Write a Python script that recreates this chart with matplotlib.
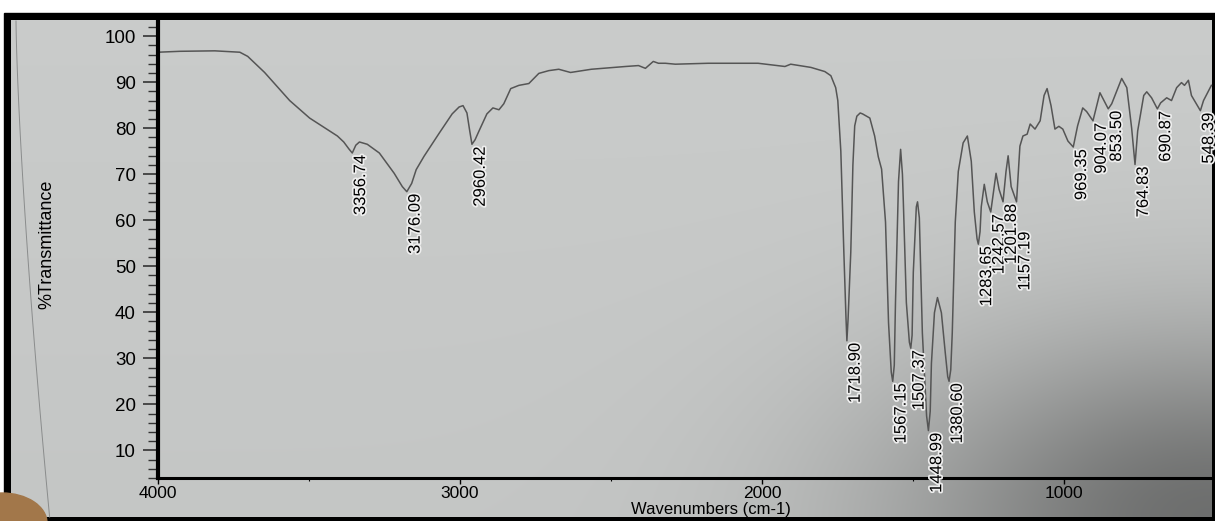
import numpy as np
import matplotlib.pyplot as plt
import matplotlib.patheffects as pe
from matplotlib.patches import Rectangle, Ellipse

plt.rcParams['font.family'] = ['Liberation Sans', 'DejaVu Sans']

# FT-IR spectrum, wavenumber (cm-1) vs %T
wavenumber = [4000, 3927, 3812, 3729, 3703, 3647, 3564, 3498, 3432, 3406, 3385, 3368,
              3356.74, 3345, 3333, 3307, 3267, 3218, 3191, 3176.09, 3160, 3145, 3119,
              3069, 3026, 3003, 2990, 2977, 2968, 2960.42, 2950, 2937, 2911, 2891, 2871,
              2855, 2832, 2805, 2772, 2739, 2706, 2673, 2634, 2565, 2452, 2409, 2386,
              2360, 2343, 2320, 2287, 2178, 2070, 2013, 1924, 1905, 1838, 1792, 1772,
              1756, 1749, 1739, 1729, 1722, 1718.90, 1715, 1706, 1699, 1693, 1686, 1675,
              1667, 1643, 1627, 1615, 1604, 1591, 1581, 1572, 1567.15, 1562, 1558, 1548,
              1541, 1535, 1532, 1522, 1512, 1507.37, 1503, 1499, 1489, 1485, 1479, 1469,
              1455, 1448.99, 1443, 1439, 1429, 1419, 1406, 1393, 1385, 1380.60, 1375,
              1370, 1360, 1350, 1334, 1320, 1307, 1297, 1288, 1283.65, 1278, 1274, 1264,
              1254, 1242.57, 1231, 1225, 1215, 1201.88, 1192, 1185, 1175, 1157.19, 1146,
              1136, 1122, 1112, 1096, 1079, 1066, 1056, 1043, 1030, 1017, 1004, 987,
              969.35, 955, 938, 925, 904.07, 881, 853.50, 842, 809, 792, 776, 764.83,
              756, 736, 726, 710, 690.87, 680, 660, 644, 627, 611, 601, 588, 578,
              548.39, 538, 512]
transmittance = [96.5, 96.7, 96.8, 96.5, 95.6, 92.1, 86.0, 82.2, 79.4, 78.3, 77.0, 75.5,
                 74.6, 76.3, 77.0, 76.5, 74.6, 70.2, 67.3, 66.2, 68.0, 71.0, 73.9,
                 78.9, 83.1, 84.6, 84.9, 83.3, 79.5, 76.5, 77.5, 79.4, 83.1, 84.4, 84.0,
                 85.3, 88.6, 89.3, 89.7, 91.9, 92.5, 92.8, 92.1, 92.8, 93.4, 93.6, 93.0,
                 94.5, 94.1, 94.1, 93.9, 94.1, 94.1, 94.1, 93.4, 93.9, 93.2, 92.3, 91.4,
                 88.8, 86.0, 75.0, 53.1, 39.0, 33.8, 38.5, 53.1, 72.0, 80.5, 82.6, 83.3,
                 83.1, 82.2, 78.3, 73.8, 71.1, 59.6, 37.7, 27.0, 25.0, 28.5, 42.1, 68.4,
                 75.4, 70.0, 64.0, 42.1, 33.5, 32.2, 35.0, 48.7, 62.9, 64.0, 60.5, 35.5,
                 17.5, 14.3, 18.5, 28.9, 39.9, 43.2, 39.9, 31.1, 26.0, 25.0, 27.5,
                 35.5, 59.6, 70.6, 76.8, 78.3, 72.8, 61.8, 56.0, 54.8, 57.5, 62.9, 67.8,
                 64.0, 61.8, 67.3, 70.2, 66.7, 64.0, 70.6, 74.0, 67.3, 64.0, 76.1,
                 78.3, 78.7, 80.9, 79.8, 81.6, 87.1, 88.6, 84.9, 79.8, 80.4, 79.8, 77.2,
                 75.9, 80.5, 84.4, 83.6, 81.6, 87.7, 84.2, 85.3, 90.8, 88.8, 80.0, 72.1,
                 79.4, 87.1, 87.9, 86.6, 84.2, 85.5, 86.6, 86.0, 88.8, 89.9, 89.3, 90.4, 87.1,
                 83.8, 86.0, 89.3]

peaks = [3356.74, 3176.09, 2960.42, 1718.90, 1567.15, 1507.37, 1448.99, 1380.60,
         1283.65, 1242.57, 1201.88, 1157.19, 969.35, 904.07, 853.50, 764.83,
         690.87, 548.39]

W, H = 1215, 521
fig = plt.figure(figsize=(W / 100, H / 100), dpi=100)
fig.patch.set_facecolor('white')

# paper background with the shadow towards the lower right
bg = fig.add_axes([0, 0, 1, 1], zorder=-5)
bg.add_patch(Rectangle((4, 0), W - 4, 508, color='black', zorder=0))
u, v = np.meshgrid(np.linspace(0, 1, 400), np.linspace(0, 1, 180))  # v = 0 at the top row
shade = 0.79 - 0.02 * v - 0.34 * np.exp(-((u - 1.0) / 0.26) ** 2 - ((v - 1.0) / 0.36) ** 2)
img = np.dstack([shade, shade * 1.01, shade * 1.005]).clip(0, 1)
bg.imshow(img, extent=(11, W - 3, 4, 501), aspect='auto', interpolation='bilinear', zorder=1)
yy = np.linspace(4, 500, 50)
bg.plot(16 + 34 * (1 - yy / 500) ** 1.4, yy, color='#8a8c8c', lw=0.7, zorder=2)
bg.add_patch(Ellipse((2, -2), 90, 60, color='#a2774a', zorder=3))
bg.set_xlim(0, W)
bg.set_ylim(0, H)
bg.axis('off')

ax = fig.add_axes([158 / W, 43 / H, (W - 158) / W, 458 / H])
ax.set_facecolor('none')
ax.plot(wavenumber, transmittance, color='#555555', lw=1.1)
ax.set_xlim(4000, 512)
ax.set_ylim(4, 103.5)

for s in ('top', 'right'):
    ax.spines[s].set_visible(False)
ax.spines['left'].set_linewidth(3)
ax.spines['bottom'].set_linewidth(2.2)

ax.set_yticks(np.arange(10, 101, 10))
ax.set_yticks(np.arange(4, 104, 2), minor=True)
ax.set_xticks([4000, 3000, 2000, 1000])
ax.set_xticks([3500, 2500, 1500, 500], minor=True)
ax.tick_params(axis='y', which='major', length=11, width=1.2, pad=5, labelsize=13.5, color='#333333')
ax.tick_params(axis='y', which='minor', length=7.5, width=1.0, color='#333333')
ax.tick_params(axis='x', which='major', length=4, width=1.0, pad=2, labelsize=12.5)
ax.tick_params(axis='x', which='minor', length=2, width=0.8)

ax.set_ylabel('%Transmittance', fontsize=13)
ax.yaxis.set_label_coords(-0.097, 0.51)
ax.set_xlabel('Wavenumbers (cm-1)', fontsize=12)
ax.xaxis.set_label_coords(0.523, -0.052)

# peak picks, written just under each minimum
asc_wn = wavenumber[::-1]
asc_t = transmittance[::-1]
nudge = {1157.19: -20}
halo = [pe.withStroke(linewidth=2.5, foreground='#eeeeee')]
for p in peaks:
    t = np.interp(p, asc_wn, asc_t)
    ax.annotate(f'{p:.2f}', (p, t), xytext=(6, -1.5 + nudge.get(p, 0)),
                textcoords='offset points', rotation=90, ha='center', va='top',
                fontsize=12, color='black', path_effects=halo, annotation_clip=False)

fig.savefig('out.png', dpi=100)
